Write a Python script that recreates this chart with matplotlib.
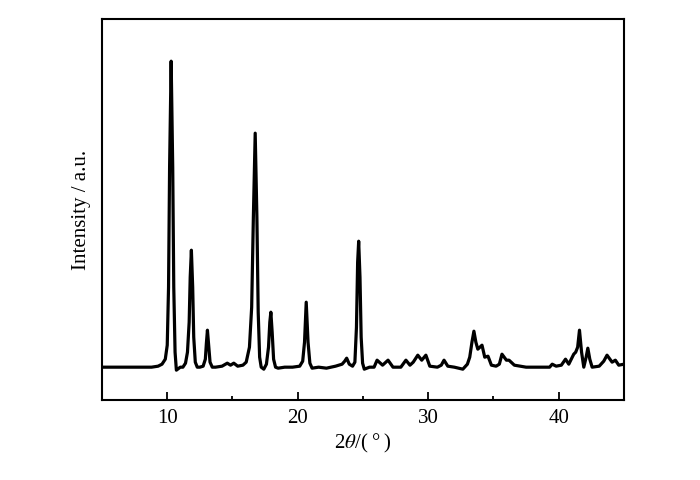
import numpy as np
import matplotlib
matplotlib.use("Agg")
from matplotlib import pyplot as plt
from matplotlib.ticker import MultipleLocator, NullLocator

# XRD pattern, points (2theta in degrees, intensity in a.u.)
two_theta = [
    5.0, 6.0, 7.0, 8.0, 8.8, 9.3, 9.6, 9.85, 10.0, 10.1, 10.18, 10.3, 10.42, 10.5, 10.6, 10.7, 10.8, 11.0,
    11.2, 11.4, 11.55, 11.68, 11.76, 11.85, 11.95, 12.03, 12.15, 12.3, 12.5,
    12.75, 12.92, 13.0, 13.08, 13.17, 13.28, 13.45, 13.7, 14.2, 14.6, 14.85, 15.1, 15.4, 15.8,
    16.05, 16.3, 16.47, 16.6, 16.74, 16.87, 16.97, 17.08, 17.2, 17.4, 17.6, 17.76, 17.86, 17.94, 18.04, 18.15, 18.3, 18.5,
    19.0, 19.6, 20.15, 20.38, 20.52, 20.65, 20.79, 20.93, 21.1, 21.6, 22.2, 22.9, 23.4, 23.6, 23.75, 23.95, 24.2,
    24.38, 24.5, 24.59, 24.67, 24.77, 24.86, 24.97, 25.1, 25.5,
    25.85, 26.08, 26.5, 26.92, 27.3, 27.9, 28.29, 28.6, 28.85, 29.2, 29.5, 29.82, 30.12, 30.7,
    31.0, 31.21, 31.5, 32.0, 32.65, 33.0, 33.18, 33.35, 33.5, 33.65, 33.8, 34.12, 34.33, 34.58, 34.84, 35.2,
    35.45, 35.65, 35.99, 36.19, 36.6, 37.5, 38.5, 39.3, 39.5, 39.8, 40.2, 40.52, 40.77, 41.15, 41.3, 41.45,
    41.59, 41.75, 41.92, 42.1, 42.23, 42.38, 42.56, 43.1, 43.45, 43.7, 44.09, 44.34, 44.6, 45.0,
]
intensity = [
    0, 0, 0, 0, 0, 1, 3, 8, 22, 80, 200, 306, 200, 80, 15, -3, -2, 0,
    0, 4, 15, 45, 90, 117, 80, 30, 5, 0, 0,
    1, 8, 24, 37, 22, 5, 0, 0, 1, 4, 2, 4, 1, 2,
    5, 20, 60, 150, 234, 150, 55, 10, 0, -2, 3, 20, 45, 55, 35, 8, 0, -1,
    0, 0, 1, 6, 25, 65, 25, 4, -1, 0, -1, 1, 3, 6, 9, 3, 1,
    5, 40, 105, 126, 90, 30, 4, -2, 0,
    0, 7, 2, 7, 0, 0, 7, 2, 5, 12, 7, 12, 1, 0,
    2, 7, 1, 0, -2, 3, 10, 25, 36, 25, 18, 22, 10, 11, 2, 1,
    3, 13, 7, 7, 2, 0, 0, 0, 3, 1, 2, 8, 3, 13, 15, 20,
    37, 15, 0, 10, 19, 8, 0, 1, 6, 12, 5, 7, 2, 3,
]

plt.rcParams["font.family"] = ["Liberation Serif", "DejaVu Serif"]
plt.rcParams["mathtext.fontset"] = "stix"

fig = plt.figure(figsize=(7, 4.81), dpi=100)
ax = fig.add_axes([0.1457, 0.167, 0.7457, 0.791])

ax.plot(two_theta, intensity, color="black", lw=2.3, solid_joinstyle="round")

ax.set_xlim(5, 45)
ax.set_ylim(-32.5, 348)

ax.xaxis.set_major_locator(MultipleLocator(10))
ax.xaxis.set_minor_locator(MultipleLocator(5))
ax.yaxis.set_major_locator(NullLocator())
ax.tick_params(axis="x", which="major", direction="in", length=6, width=1.3,
               labelsize=15, pad=6)
ax.tick_params(axis="x", which="minor", direction="in", length=3, width=1.3)
ax.tick_params(top=False, right=False)
for s in ax.spines.values():
    s.set_linewidth(1.5)

ax.set_xlabel("2$\\theta$/(\u2009°\u2009)", fontsize=15, labelpad=3)
ax.set_ylabel("Intensity / a.u.", fontsize=15, labelpad=8)

fig.savefig("out.png", dpi=100)
